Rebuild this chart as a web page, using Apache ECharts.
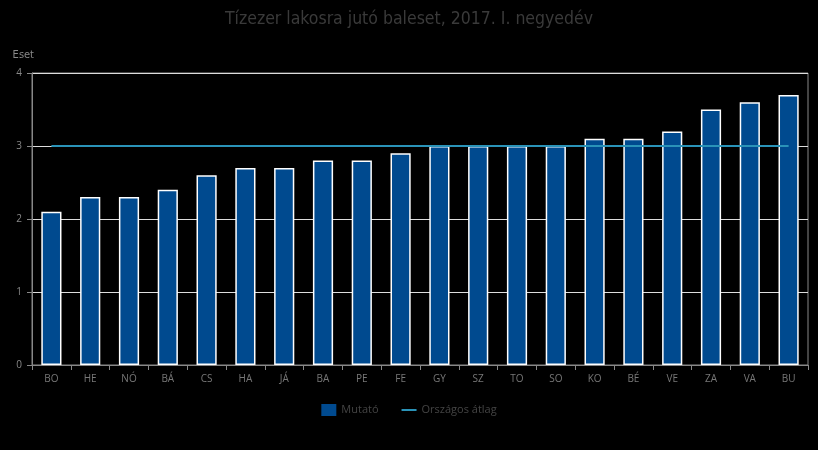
<!DOCTYPE html>
<html><head><meta charset="utf-8">
<script src="https://cdn.jsdelivr.net/npm/echarts@6/dist/echarts.min.js"></script>
<style>html,body{margin:0;padding:0;background:#000;}#c{width:818px;height:450px;}</style>
</head><body><div id="c"></div>
<script>
const categories = ['BO','HE','NÓ','BÁ','CS','HA','JÁ','BA','PE','FE','GY','SZ','TO','SO','KO','BÉ','VE','ZA','VA','BU'];
const mutato = [2.1,2.3,2.3,2.4,2.6,2.7,2.7,2.8,2.8,2.9,3.0,3.0,3.0,3.0,3.1,3.1,3.2,3.5,3.6,3.7];
const atlag = [3.0,3.0,3.0,3.0,3.0,3.0,3.0,3.0,3.0,3.0,3.0,3.0,3.0,3.0,3.0,3.0,3.0,3.0,3.0,3.0];
const yTicks = {min:0,max:4,interval:1};

const chart = echarts.init(document.getElementById('c'));
chart.setOption({
  backgroundColor:'#000',
  animation:false,
  title:{text:'Tízezer lakosra jutó baleset, 2017. I. negyedév',left:'center',top:5,
    textStyle:{color:'#3a3a3a',fontSize:17.5,fontWeight:'normal',fontFamily:'Liberation Sans Narrow, DejaVu Sans Condensed, sans-serif'}},
  grid:{left:32,right:10,top:73,bottom:85,show:true,borderColor:'#888',borderWidth:1,backgroundColor:'transparent'},
  legend:{bottom:29,left:'center',itemWidth:15,itemHeight:12,itemGap:22,
    textStyle:{color:'#444',fontSize:11,fontFamily:'Open Sans, sans-serif'},
    data:[{name:'Mutató',icon:'rect',itemStyle:{borderWidth:0}},
          {name:'Országos átlag',itemStyle:{color:'rgba(0,0,0,0)',borderWidth:0}}]},
  xAxis:{type:'category',data:categories,
    axisLine:{lineStyle:{color:'#888'}},
    axisTick:{show:true,length:5,lineStyle:{color:'#888'}},
    axisLabel:{color:'#777',fontSize:10,fontFamily:'Open Sans, sans-serif',margin:9}},
  yAxis:{type:'value',min:yTicks.min,max:yTicks.max,interval:yTicks.interval,
    name:'Eset',nameLocation:'end',nameGap:12,
    nameTextStyle:{color:'#888',fontSize:11,align:'right',padding:[0,-2,0,0],fontFamily:'Liberation Sans Narrow, DejaVu Sans Condensed, sans-serif'},
    axisLine:{show:true,lineStyle:{color:'#888'}},
    axisTick:{show:true,length:5,lineStyle:{color:'#888'}},
    axisLabel:{color:'#888',fontSize:10,margin:10,fontFamily:'Open Sans, sans-serif'},
    splitLine:{show:true,lineStyle:{color:'#ddd',width:1}}},
  series:[
    {name:'Mutató',type:'bar',data:mutato,barWidth:'52%',
      itemStyle:{color:'#004a8f',borderColor:'#fff',borderWidth:1.5}},
    {name:'Országos átlag',type:'line',data:atlag,symbol:'none',z:5,
      itemStyle:{color:'#2a93b8'},lineStyle:{color:'#2a93b8',width:2}}
  ]
});
</script></body></html>
